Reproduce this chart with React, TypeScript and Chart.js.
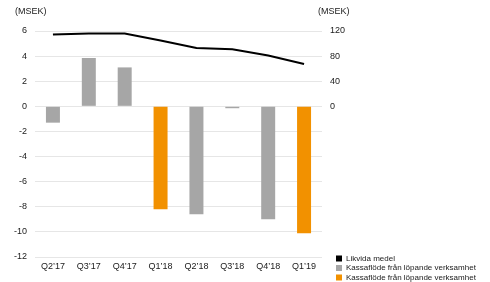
import React, { useEffect, useRef } from "react";
import { Chart, registerables } from "chart.js";

Chart.register(...registerables);

const categories = ["Q2’17", "Q3’17", "Q4’17", "Q1’18", "Q2’18", "Q3’18", "Q4’18", "Q1’19"];
const likvidaMedel = [114.5, 116, 116, 105, 93, 91, 81, 67.5];
const kassaflodeGray = [-1.3, 3.85, 3.1, null, -8.6, -0.15, -9.0, null];
const kassaflodeOrange = [null, null, null, -8.2, null, null, null, -10.1];
const leftTicks = { min: -12, max: 6, step: 2 };
const rightTicks = { min: -240, max: 120, step: 40 };
const axisTitle = "(MSEK)";
const seriesLabels = ["Likvida medel", "Kassaflöde från löpande verksamhet", "Kassaflöde från löpande verksamhet"];

const GRAY = "#a6a6a6";
const ORANGE = "#f29100";
const TEXT = "#1a1a1a";
const FONT = "'Liberation Sans', Arial, sans-serif";

const overlayPlugin = {
  id: "overlay",
  afterDraw(chart: any) {
    const ctx = chart.ctx;
    ctx.save();
    ctx.fillStyle = TEXT;
    ctx.font = `9px ${FONT}`;
    ctx.textBaseline = "middle";
    ctx.textAlign = "left";
    ctx.fillText(axisTitle, 15, 12);
    ctx.fillText(axisTitle, 318, 12);
    // legend
    ctx.font = `8px ${FONT}`;
    const startY = 258.5;
    chart.data.datasets.forEach((d: any, i: number) => {
      const y = startY + i * 9.5;
      ctx.fillStyle = d.legendColor;
      ctx.fillRect(336, y - 3, 6, 6);
      ctx.fillStyle = TEXT;
      ctx.fillText(d.label, 346, y);
    });
    ctx.restore();
  },
};

export default function App() {
  const ref = useRef<HTMLCanvasElement | null>(null);

  useEffect(() => {
    document.body.style.margin = "0";
    const canvas = ref.current;
    if (!canvas) return;
    const chart = new Chart(canvas, {
      type: "bar",
      data: {
        labels: categories,
        datasets: [
          {
            type: "line",
            label: seriesLabels[0],
            data: likvidaMedel,
            yAxisID: "y1",
            borderColor: "#000000",
            borderWidth: 2,
            pointRadius: 0,
            tension: 0,
            order: 0,
            legendColor: "#000000",
          } as any,
          {
            type: "bar",
            label: seriesLabels[1],
            data: kassaflodeGray,
            yAxisID: "y",
            backgroundColor: GRAY,
            grouped: false,
            barPercentage: 0.39,
            categoryPercentage: 1,
            order: 1,
            legendColor: GRAY,
          } as any,
          {
            type: "bar",
            label: seriesLabels[2],
            data: kassaflodeOrange,
            yAxisID: "y",
            backgroundColor: ORANGE,
            grouped: false,
            barPercentage: 0.39,
            categoryPercentage: 1,
            order: 1,
            legendColor: ORANGE,
          } as any,
        ],
      },
      options: {
        animation: false,
        responsive: false,
        maintainAspectRatio: false,
        layout: { padding: { top: 31, left: 0, right: 0, bottom: 0 } },
        plugins: { legend: { display: false }, tooltip: { enabled: false } },
        scales: {
          x: {
            grid: { display: false, drawTicks: false },
            border: { display: false },
            ticks: { color: TEXT, font: { family: FONT, size: 9 }, padding: 4, maxRotation: 0 },
            afterFit: (s: any) => {
              s.height = 25;
            },
          },
          y: {
            position: "left",
            min: leftTicks.min,
            max: leftTicks.max,
            grid: { color: "#e6e6e6", lineWidth: 1, drawTicks: false },
            border: { display: false },
            ticks: { stepSize: leftTicks.step, color: TEXT, font: { family: FONT, size: 9 }, padding: 8 },
            afterFit: (s: any) => {
              s.width = 35;
            },
          },
          y1: {
            position: "right",
            min: rightTicks.min,
            max: rightTicks.max,
            grid: { display: false, drawTicks: false },
            border: { display: false },
            ticks: {
              stepSize: rightTicks.step,
              color: TEXT,
              font: { family: FONT, size: 9 },
              padding: 8,
              callback: (v: any) => (Number(v) >= 0 ? String(v) : ""),
            },
            afterFit: (s: any) => {
              s.width = 168;
            },
          },
        },
      } as any,
      plugins: [overlayPlugin],
    });
    return () => chart.destroy();
  }, []);

  return (
    <div style={{ position: "absolute", left: 0, top: 0, width: 490, height: 282, background: "#fff" }}>
      <canvas ref={ref} width={490} height={282} style={{ width: 490, height: 282, display: "block" }} />
    </div>
  );
}
